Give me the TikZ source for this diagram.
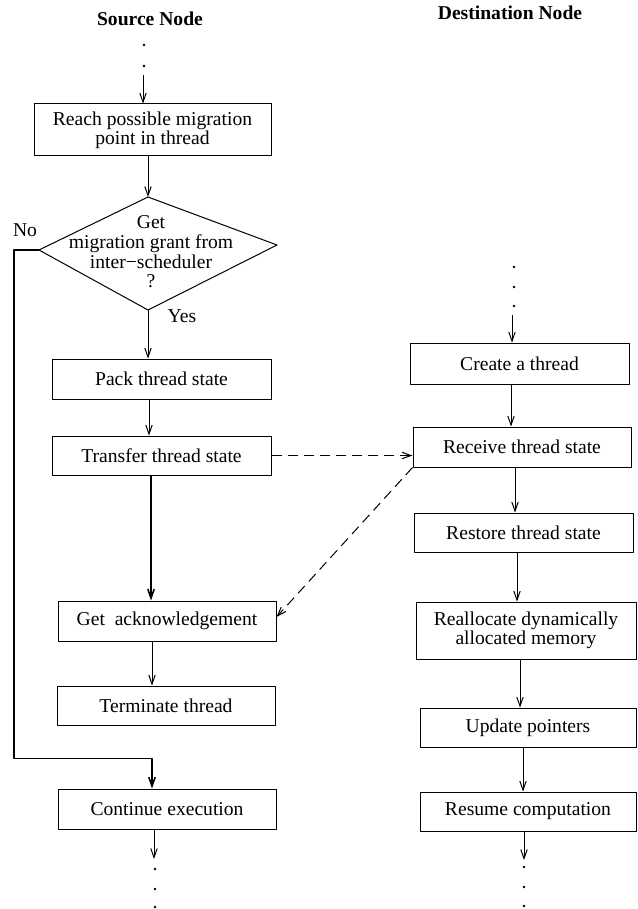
\documentclass[tikz,border=0pt]{standalone}
\usepackage{fontspec}
\setmainfont{Liberation Serif}
\usetikzlibrary{arrows.meta}

\begin{document}
\begin{tikzpicture}[x=0.5pt,y=-0.5pt,line join=round,line width=0.5pt,
  >={Straight Barb[length=4.5pt,width=3.2pt]},
  font=\fontsize{9.8}{9.5}\selectfont,
  box/.style={draw,align=center,inner sep=0pt},
  flow/.style={->},
  msg/.style={->,dash pattern=on 5pt off 3pt},
  heavy/.style={line width=0.8pt}]
\useasboundingbox (0,0) rectangle (637,909);
\path
(144,45) coordinate (t1)
(144,66) coordinate (t2)
(143,75) coordinate (tgo)
(148,197) coordinate (gtop)
(39,250) coordinate (gleft)
(277,245) coordinate (gright)
(148,310) coordinate (gbot)
(154,859) coordinate (send)
(155,869) coordinate (s1)
(155,889) coordinate (s2)
(155,907) coordinate (s3)
(514,267) coordinate (d1)
(514,287) coordinate (d2)
(514,306) coordinate (d3)
(512,315) coordinate (dgo)
(524,860) coordinate (dend)
(524,867) coordinate (e1)
(524,887) coordinate (e2)
(524,906) coordinate (e3)
;
% headings
\node[font=\fontsize{9.8}{9.5}\selectfont\bfseries] (srchead) at (150,19) {Source Node};
\node[font=\fontsize{9.8}{9.5}\selectfont\bfseries] (dsthead) at (510,13) {Destination Node};
% source side
\node[box,minimum width=118.5pt,minimum height=26pt] (reach) at (152.5,130) {Reach possible migration\\point in thread};
\draw (gtop) -- (gright) -- (gbot) -- (gleft) -- cycle;
\node[align=center,font=\fontsize{9.8}{9.8}\selectfont] (grant) at (151,252) {Get\\migration grant from\\inter−scheduler\\?};
\node (no) at (25,230) {No};
\node (yes) at (182,316) {Yes};
\node[box,minimum width=109.5pt,minimum height=20pt] (pack) at (161.5,379) {Pack thread state};
\node[box,minimum width=109.5pt,minimum height=19.5pt] (transfer) at (161.5,455.5) {Transfer thread state};
\node[box,minimum width=109pt,minimum height=20pt] (ack) at (167,621) {Get\ \ acknowledgement};
\node[box,minimum width=109pt,minimum height=19.5pt] (term) at (166,705.5) {Terminate thread};
\node[box,minimum width=109pt,minimum height=20pt] (cont) at (167,809) {Continue execution};
% destination side
\node[box,minimum width=109.5pt,minimum height=20.5pt] (create) at (519.5,363.5) {Create a thread};
\node[box,minimum width=109pt,minimum height=20pt] (receive) at (522,447) {Receive thread state};
\node[box,minimum width=109.5pt,minimum height=19.5pt] (restore) at (523.5,532.5) {Restore thread state};
\node[box,minimum width=110pt,minimum height=28.5pt] (realloc) at (526,630.5) {Reallocate dynamically\\allocated memory};
\node[box,minimum width=108pt,minimum height=19.5pt] (update) at (528,727.5) {Update pointers};
\node[box,minimum width=108pt,minimum height=19.5pt] (resume) at (528,811.5) {Resume computation};
% flow on the source node
\draw[flow] (tgo) -- (tgo |- reach.north);
\draw[flow] (reach.south -| gtop) -- (gtop);
\draw[flow] (gbot) -- (gbot |- pack.north);
\draw[flow] ([xshift=-6.25pt]pack.south) -- ([xshift=-6.25pt]transfer.north);
\draw[flow,heavy] ([xshift=-5.25pt]transfer.south) -- ([xshift=-8pt]ack.north);
\draw[flow] ([xshift=-7.5pt]ack.south) -- ([xshift=-7pt]term.north);
\draw[flow,heavy] (gleft) -- ++(-25,0) |- ([xshift=-7.5pt,yshift=15pt]cont.north) -- ([xshift=-7.5pt]cont.north);
\draw[flow] (cont.south -| send) -- (send);
% flow on the destination node
\draw[flow] (dgo) -- (dgo |- create.north);
\draw[flow] ([xshift=-4.25pt]create.south) -- ([xshift=-5.5pt]receive.north);
\draw[flow] ([xshift=-3.5pt]receive.south) -- ([xshift=-4.25pt]restore.north);
\draw[flow] ([xshift=-3.25pt]restore.south) -- ([xshift=-4.5pt]realloc.north);
\draw[flow] ([xshift=-3pt]realloc.south) -- ([xshift=-4pt]update.north);
\draw[flow] ([xshift=-2.5pt]update.south) -- ([xshift=-2.5pt]resume.north);
\draw[flow] (resume.south -| dend) -- (dend);
% messages between the nodes
\draw[msg] (transfer.east) -- (transfer.east -| receive.west);
\draw[msg] (receive.south west) -- ([yshift=2pt]ack.east);
\fill
(t1) circle(0.7pt) (t2) circle(0.7pt)
(s1) circle(0.7pt) (s2) circle(0.7pt) (s3) circle(0.7pt)
(d1) circle(0.7pt) (d2) circle(0.7pt) (d3) circle(0.7pt)
(e1) circle(0.7pt) (e2) circle(0.7pt) (e3) circle(0.7pt)
;
\end{tikzpicture}
\end{document}
